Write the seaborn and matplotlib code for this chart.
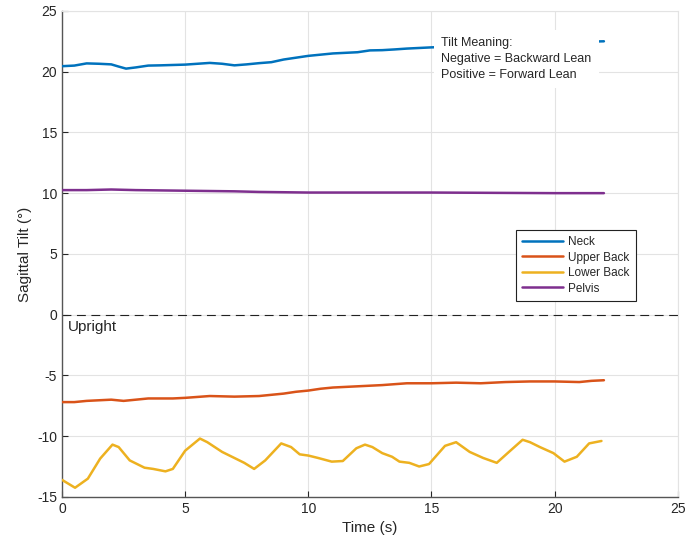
import seaborn as sns
import pandas as pd
import matplotlib.pyplot as plt

# values
neck_t = [0, 0.5, 1.0, 1.5, 2.0, 2.3, 2.6, 3.0, 3.5, 4.0, 5.0, 6.0, 6.5, 7.0, 7.5, 8.0,
          8.5, 9.0, 9.5, 10.0, 10.5, 11.0, 12.0, 12.5, 13.0, 13.5, 14.0, 15.0, 17.0, 19.0, 21.0, 22.0]
neck_y = [20.45, 20.5, 20.68, 20.65, 20.6, 20.42, 20.25, 20.35, 20.5, 20.52, 20.58, 20.72, 20.65,
          20.52, 20.6, 20.7, 20.78, 21.0, 21.15, 21.3, 21.4, 21.5, 21.6, 21.75, 21.77, 21.83, 21.9,
          22.0, 22.15, 22.3, 22.45, 22.5]

upper_t = [0, 0.5, 1.0, 2.0, 2.5, 3.5, 4.5, 5.0, 6.0, 7.0, 8.0, 8.5, 9.0, 9.5, 10.0, 10.5, 11.0,
           12.0, 13.0, 14.0, 15.0, 16.0, 17.0, 18.0, 19.0, 20.0, 21.0, 21.5, 22.0]
upper_y = [-7.2, -7.2, -7.1, -7.0, -7.1, -6.9, -6.9, -6.85, -6.7, -6.75, -6.7, -6.6, -6.5, -6.35,
           -6.25, -6.1, -6.0, -5.9, -5.8, -5.65, -5.65, -5.6, -5.65, -5.55, -5.5, -5.5, -5.55, -5.45, -5.4]

lower_t = [0, 0.53, 1.05, 1.55, 2.05, 2.3, 2.75, 3.35, 3.7, 4.2, 4.5, 5.0, 5.6, 5.9, 6.5, 6.9,
           7.4, 7.8, 8.25, 8.9, 9.3, 9.65, 10.0, 10.4, 10.95, 11.4, 11.95, 12.3, 12.6, 13.0, 13.4,
           13.7, 14.1, 14.5, 14.9, 15.55, 16.0, 16.55, 17.1, 17.65, 18.2, 18.7, 19.0, 19.4, 19.95,
           20.4, 20.9, 21.4, 21.9]
lower_y = [-13.6, -14.25, -13.5, -11.85, -10.7, -10.9, -12.0, -12.6, -12.7, -12.9, -12.7, -11.2,
           -10.2, -10.5, -11.3, -11.7, -12.2, -12.7, -12.0, -10.6, -10.9, -11.5, -11.6, -11.8,
           -12.1, -12.05, -11.0, -10.7, -10.9, -11.4, -11.7, -12.1, -12.2, -12.5, -12.3, -10.8,
           -10.5, -11.3, -11.8, -12.2, -11.2, -10.3, -10.5, -10.9, -11.4, -12.1, -11.7, -10.6, -10.4]

pelvis_t = [0, 1.0, 2.0, 3.0, 5.0, 7.0, 8.0, 10.0, 12.0, 15.0, 18.0, 20.0, 22.0]
pelvis_y = [10.25, 10.25, 10.3, 10.25, 10.2, 10.15, 10.1, 10.05, 10.05, 10.05, 10.02, 10.0, 10.0]

series = {
    'Neck': (neck_t, neck_y, '#0072BD'),
    'Upper Back': (upper_t, upper_y, '#D95319'),
    'Lower Back': (lower_t, lower_y, '#EDB120'),
    'Pelvis': (pelvis_t, pelvis_y, '#7E2F8E'),
}

sns.set_style('ticks')
plt.rcParams['font.family'] = ['Liberation Sans', 'DejaVu Sans']
plt.rcParams['axes.unicode_minus'] = False
plt.rcParams['xtick.direction'] = 'in'
plt.rcParams['ytick.direction'] = 'in'

fig = plt.figure(figsize=(6.85, 5.46), dpi=100)
ax = fig.add_axes([0.0905, 0.09, 0.899, 0.89])

for name, (t, y, color) in series.items():
    df = pd.DataFrame({'t': t, 'y': y})
    sns.lineplot(data=df, x='t', y='y', color=color, linewidth=1.8, label=name, ax=ax, zorder=3)

ax.axhline(0, color='#222222', linestyle=(0, (8, 5)), linewidth=0.8, zorder=2)
ax.text(0.25, -1.0, 'Upright', fontsize=11, va='center', ha='left')

# white box hides the neck line behind the note, as in the original
ax.text(15.4, 22.85, 'Tilt Meaning:\nNegative = Backward Lean\nPositive = Forward Lean',
        fontsize=9, va='top', ha='left', linespacing=1.45, zorder=5,
        bbox=dict(facecolor='white', edgecolor='none', pad=5))

ax.set_xlim(0, 25)
ax.set_ylim(-15, 25)
ax.set_xticks([0, 5, 10, 15, 20, 25])
ax.set_yticks([-15, -10, -5, 0, 5, 10, 15, 20, 25])
ax.grid(True, color='#e3e3e3', linewidth=0.8)
ax.set_axisbelow(True)
ax.set_xlabel('Time (s)', fontsize=11)
ax.set_ylabel('Sagittal Tilt (°)', fontsize=11)
ax.tick_params(labelsize=10, colors='#262626', length=4, width=0.8)
for side in ['left', 'bottom']:
    ax.spines[side].set_color('#555555')
    ax.spines[side].set_linewidth(1.0)
for side in ['top', 'right']:
    ax.spines[side].set_color('#e3e3e3')
    ax.spines[side].set_linewidth(0.8)

leg = ax.legend(loc='upper left', bbox_to_anchor=(0.737, 0.549), fontsize=8.5,
                frameon=True, fancybox=False, edgecolor='#222222', framealpha=1,
                handlelength=3.5, borderpad=0.5, labelspacing=0.3, handletextpad=0.45,
                borderaxespad=0)
leg.get_frame().set_linewidth(0.8)

fig.savefig('out.png', dpi=100)
